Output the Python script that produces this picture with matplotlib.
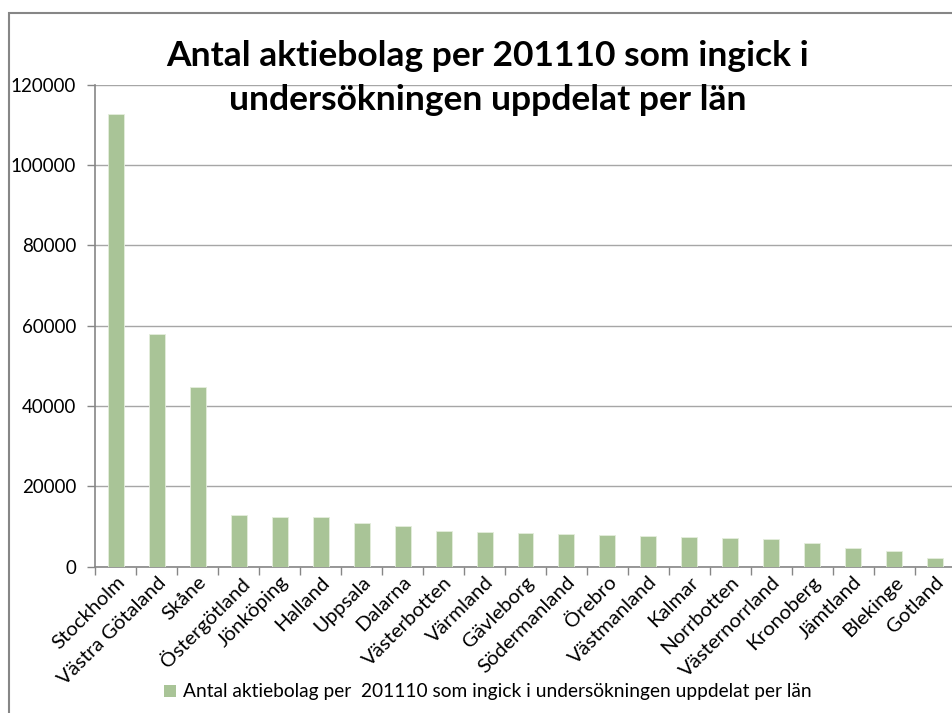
import matplotlib
matplotlib.use("Agg")
import matplotlib.pyplot as plt
from matplotlib.patches import Rectangle
import numpy as np

categories = ["Stockholm", "Västra Götaland", "Skåne", "Östergötland", "Jönköping",
              "Halland", "Uppsala", "Dalarna", "Västerbotten", "Värmland", "Gävleborg",
              "Södermanland", "Örebro", "Västmanland", "Kalmar", "Norrbotten",
              "Västernorrland", "Kronoberg", "Jämtland", "Blekinge", "Gotland"]
values = [112700, 57900, 44700, 12750, 12250, 12250, 10760, 10010, 8910, 8670, 8420,
          8170, 7920, 7670, 7420, 7170, 6920, 5930, 4610, 3860, 2120]
yticks = [0, 20000, 40000, 60000, 80000, 100000, 120000]
series_name = "Antal aktiebolag per  201110 som ingick i undersökningen uppdelat per län"
title = "Antal aktiebolag per 201110 som ingick i\nundersökningen uppdelat per län"

W, H = 953, 713
fig = plt.figure(figsize=(W / 100, H / 100), dpi=100)
plt.rcParams['font.family'] = ['Lato', 'DejaVu Sans']

# chart border
fig.patches.append(Rectangle((9 / W, -0.1), 1.2, 1 - 13 / H + 0.1, transform=fig.transFigure,
                             fill=False, edgecolor='#868686', linewidth=1.5, zorder=0))

left, right = 95.5, 955.5
bottom, top = 566.5, 84.7
ax = fig.add_axes([left / W, 1 - bottom / H, (right - left) / W, (bottom - top) / H])

x = np.arange(len(categories))
ax.bar(x, values, width=0.39, color='#A9C497', edgecolor='#E4EDDD', linewidth=0.6, zorder=3)

ax.set_xlim(-0.5, len(categories) - 0.5)
ax.set_ylim(0, 120000)
ax.set_yticks(yticks)
ax.set_yticklabels([str(v) for v in yticks], fontsize=13.5)
ax.yaxis.grid(True, color='#A6A6A6', linewidth=1.0, zorder=0)
ax.tick_params(axis='y', direction='out', length=6, color='#868686', width=1, pad=8)

ax.set_xticks(np.arange(len(categories) + 1) - 0.5)
ax.set_xticklabels([])
ax.tick_params(axis='x', which='major', direction='out', length=6, color='#868686', width=1)
ax.set_xticks(x, minor=True)
ax.set_xticklabels(categories, minor=True, rotation=45, ha='right', rotation_mode='anchor',
                   fontsize=14.7)
ax.tick_params(axis='x', which='minor', length=0, pad=5)

for s in ['top', 'right']:
    ax.spines[s].set_visible(False)
for s in ['left', 'bottom']:
    ax.spines[s].set_color('#868686')
    ax.spines[s].set_linewidth(1.2)
ax.set_axisbelow(True)

fig.text(488 / W, 1 - 78 / H, title, ha='center', va='center', fontsize=25.5,
         fontweight='bold', linespacing=1.5)

# legend
fig.patches.append(Rectangle((164 / W, 1 - 697 / H), 12 / W, 12 / H, transform=fig.transFigure,
                             facecolor='#A9C497', edgecolor='none'))
fig.text(183 / W, 1 - 691 / H, series_name, ha='left', va='center', fontsize=13.8)

fig.savefig("out.png", dpi=100, facecolor='white')
